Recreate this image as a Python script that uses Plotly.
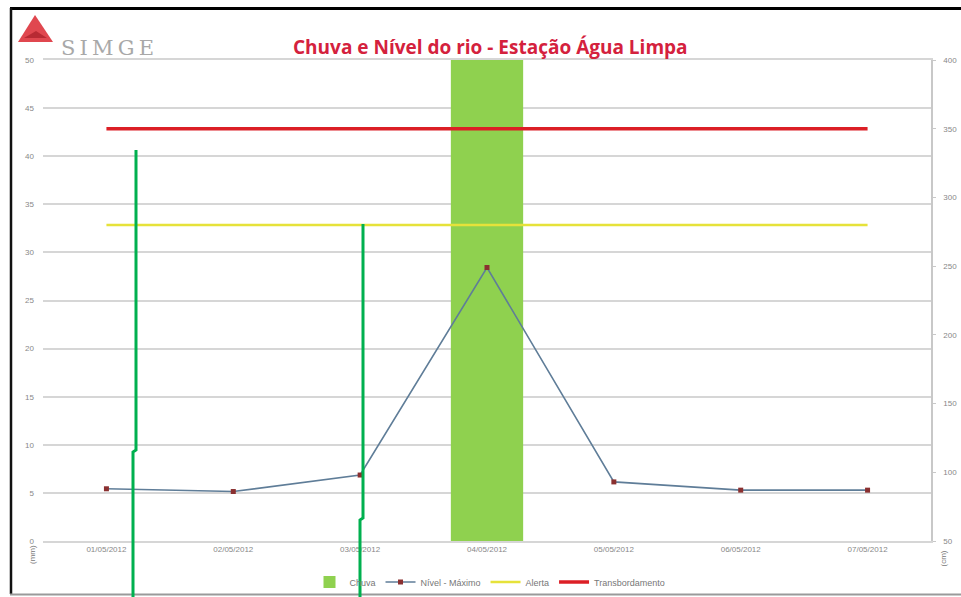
import plotly.graph_objects as go

dates = ["01/05/2012", "02/05/2012", "03/05/2012", "04/05/2012",
         "05/05/2012", "06/05/2012", "07/05/2012"]
chuva = [0, 0, 0, 50, 0, 0, 0]
nivel = [88, 86, 98, 249, 93, 87, 87]
alerta = [280, 280, 280, 280, 280, 280, 280]
transb = [350, 350, 350, 350, 350, 350, 350]

W, H = 961, 597
L, R, T, B = 43, 931, 60, 541

def px(x):
    return (x - L) / (R - L)

def py(y):
    return (B - y) / (B - T)

fig = go.Figure()
fig.add_trace(go.Bar(x=dates, y=chuva, name="Chuva", marker_color="#8fd14f",
                     marker_line_width=0, width=0.57, yaxis="y"))
fig.add_trace(go.Scatter(x=dates, y=nivel, name="Nível - Máximo", yaxis="y2",
                         mode="lines+markers",
                         line=dict(color="#5f7d98", width=1.6),
                         marker=dict(symbol="square", size=5, color="#8a3030")))
fig.add_trace(go.Scatter(x=dates, y=alerta, name="Alerta", yaxis="y2", mode="lines",
                         line=dict(color="#e6e23a", width=2.5)))
fig.add_trace(go.Scatter(x=dates, y=transb, name="Transbordamento", yaxis="y2", mode="lines",
                         line=dict(color="#dc1f26", width=3.5)))

shapes = []
# frame
shapes.append(dict(type="line", xref="paper", yref="paper", x0=px(10), x1=px(961), y0=py(8.5), y1=py(8.5),
                   line=dict(color="#000000", width=3)))
shapes.append(dict(type="line", xref="paper", yref="paper", x0=px(11), x1=px(11), y0=py(8), y1=py(594),
                   line=dict(color="#111111", width=2.5)))
shapes.append(dict(type="line", xref="paper", yref="paper", x0=px(10), x1=px(961), y0=py(594.5), y1=py(594.5),
                   line=dict(color="#9a9a9a", width=2)))
# logo triangle
shapes.append(dict(type="path", xref="paper", yref="paper",
                   path=f"M {px(18)} {py(42)} L {px(35)} {py(15)} L {px(53)} {py(42)} Z",
                   fillcolor="#e0474f", line=dict(width=0)))
shapes.append(dict(type="path", xref="paper", yref="paper",
                   path=f"M {px(24)} {py(38)} L {px(36)} {py(31)} L {px(47)} {py(38)} Z",
                   fillcolor="#b82a33", line=dict(width=0)))
# green overlay strokes
g = dict(color="#00b04f", width=3)
shapes.append(dict(type="path", xref="paper", yref="paper",
                   path=f"M {px(136)} {py(150)} L {px(136)} {py(450)} L {px(133)} {py(452)} L {px(133)} {py(597)}",
                   line=g))
shapes.append(dict(type="path", xref="paper", yref="paper",
                   path=f"M {px(363)} {py(224)} L {px(363)} {py(518)} L {px(360)} {py(520)} L {px(360)} {py(597)}",
                   line=g))

annotations = [
    dict(text="<b>Chuva e Nível do rio - Estação Água Limpa</b>", xref="paper", yref="paper",
         x=px(490), y=py(32), showarrow=False, font=dict(family="Open Sans", size=19, color="#d4213d")),
    dict(text="S\u2009I\u2009M\u2009G\u2009E", xref="paper", yref="paper", x=px(59), y=py(34), xanchor="left",
         showarrow=False, font=dict(family="DejaVu Serif", size=21, color="#a8a8a8")),
    dict(text="(mm)", xref="paper", yref="paper", x=px(26), y=py(566), textangle=-90,
         showarrow=False, font=dict(family="Liberation Sans", size=8, color="#777777")),
    dict(text="(cm)", xref="paper", yref="paper", x=px(949), y=py(568), textangle=-90,
         showarrow=False, font=dict(family="Liberation Sans", size=8, color="#777777")),
]

fig.update_layout(
    width=W, height=H,
    margin=dict(l=L, r=W - R, t=T, b=H - B, autoexpand=False),
    paper_bgcolor="white", plot_bgcolor="white",
    font=dict(family="Liberation Sans", size=8, color="#888888"),
    showlegend=True,
    legend=dict(orientation="h", x=px(490), xanchor="center", y=py(582), yanchor="middle",
                font=dict(size=9, color="#777777"), tracegroupgap=0,
                bgcolor="rgba(0,0,0,0)"),
    xaxis=dict(type="category", showgrid=False, showline=True, mirror=True,
               linecolor="#d6d6d6", linewidth=1.5, ticks="",
               tickfont=dict(size=8, color="#888888")),
    yaxis=dict(range=[0, 50], dtick=5, showgrid=True, gridcolor="#d6d6d6", gridwidth=1.5,
               zeroline=False, showline=False, ticks="", ticklabelstandoff=8,
               tickfont=dict(size=8, color="#888888")),
    yaxis2=dict(range=[50, 400], dtick=50, overlaying="y", side="right", showgrid=False,
                zeroline=False, showline=True, linecolor="#c8c8c8", linewidth=1.5,
                ticks="outside", ticklen=3, tickcolor="#c8c8c8", ticklabelstandoff=6,
                tickfont=dict(size=8, color="#888888")),
    shapes=shapes, annotations=annotations,
    bargap=0.43,
)

fig.write_html("out.html")
